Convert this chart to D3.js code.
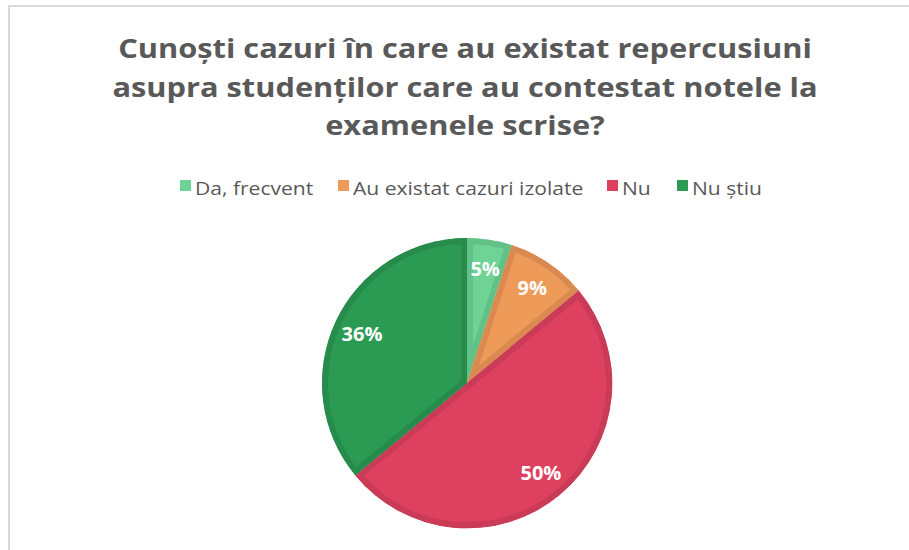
<!DOCTYPE html>
<html>
<head>
<meta charset="utf-8">
<script src="https://cdn.jsdelivr.net/npm/d3@7"></script>
<style>
  html, body { margin: 0; padding: 0; background: #fff; }
  svg { display: block; }
</style>
</head>
<body>
<svg id="chart" width="909" height="550"></svg>
<script>
// Survey answers and their shares (%)
const categories = ["Da, frecvent", "Au existat cazuri izolate", "Nu", "Nu știu"];
const values = [5, 9, 50, 36];
const fillColors = ["#70d396", "#ee9a58", "#dd415f", "#2b9b53"];
const edgeColors = ["#62c187", "#da8a51", "#c93b56", "#278c4b"];
const titleLines = [
  "Cunoști cazuri în care au existat repercusiuni",
  "asupra studenților care au contestat notele la",
  "examenele scrise?"
];

const svg = d3.select("#chart");
const W = 909, H = 550;
const FONT = "'Open Sans', 'Noto Sans', sans-serif";

// widen a text element horizontally by factor k, keeping its anchor
function widen(sel, k) {
  sel.each(function () {
    const n = this.getComputedTextLength();
    d3.select(this).attr("textLength", n * k).attr("lengthAdjust", "spacingAndGlyphs");
  });
}

// chart area frame
svg.append("rect")
  .attr("x", 9).attr("y", 6)
  .attr("width", W + 20).attr("height", H + 20)
  .attr("fill", "#fff")
  .attr("stroke", "#d9d9d9").attr("stroke-width", 2);

// title
const titleG = svg.append("g");
titleLines.forEach((t, i) => {
  titleG.append("text")
    .attr("x", 465).attr("y", 58 + i * 38.5)
    .attr("text-anchor", "middle")
    .attr("font-family", FONT)
    .attr("font-weight", "bold")
    .attr("font-size", 27)
    .attr("fill", "#595959")
    .text(t);
});
widen(titleG.selectAll("text"), 1.14);

// legend
const legendX = [180, 338, 607, 677];
const legend = svg.append("g");
categories.forEach((c, i) => {
  const g = legend.append("g").attr("transform", `translate(${legendX[i]},0)`);
  g.append("rect").attr("x", 0).attr("y", 180).attr("width", 11).attr("height", 11)
    .attr("fill", fillColors[i]);
  g.append("text").attr("x", 15).attr("y", 195)
    .attr("font-family", FONT)
    .attr("font-size", 18)
    .attr("fill", "#595959")
    .text(c);
});
widen(legend.selectAll("text"), 1.17);

// pie
const cx = 467, cy = 383, R = 145;
const pie = d3.pie().sort(null).value(d => d)(values);
const arc = d3.arc().innerRadius(0).outerRadius(R);
const labelArc = d3.arc().innerRadius(R * 0.8).outerRadius(R * 0.8);

const defs = svg.append("defs");

pie.forEach((p, i) => {
  const id = "slice-clip-" + i;
  defs.append("clipPath").attr("id", id)
    .append("path").attr("d", arc(p))
    .attr("transform", `translate(${cx},${cy})`);
  const g = svg.append("g").attr("clip-path", `url(#${id})`)
    .append("g").attr("transform", `translate(${cx},${cy})`);
  g.append("path").attr("d", arc(p)).attr("fill", fillColors[i]);
  // darker inner rim along each slice edge
  g.append("path").attr("d", arc(p))
    .attr("fill", "none")
    .attr("stroke", edgeColors[i])
    .attr("stroke-width", 12)
    .attr("stroke-linejoin", "miter");
});

// data labels
const lg = svg.append("g").attr("transform", `translate(${cx},${cy})`);
pie.forEach((p, i) => {
  const [x, y] = labelArc.centroid(p);
  lg.append("text")
    .attr("x", x).attr("y", y)
    .attr("text-anchor", "middle")
    .attr("dominant-baseline", "central")
    .attr("font-family", FONT)
    .attr("font-weight", "bold")
    .attr("font-size", 20)
    .attr("fill", "#fff")
    .text(values[i] + "%");
});
</script>
</body>
</html>
